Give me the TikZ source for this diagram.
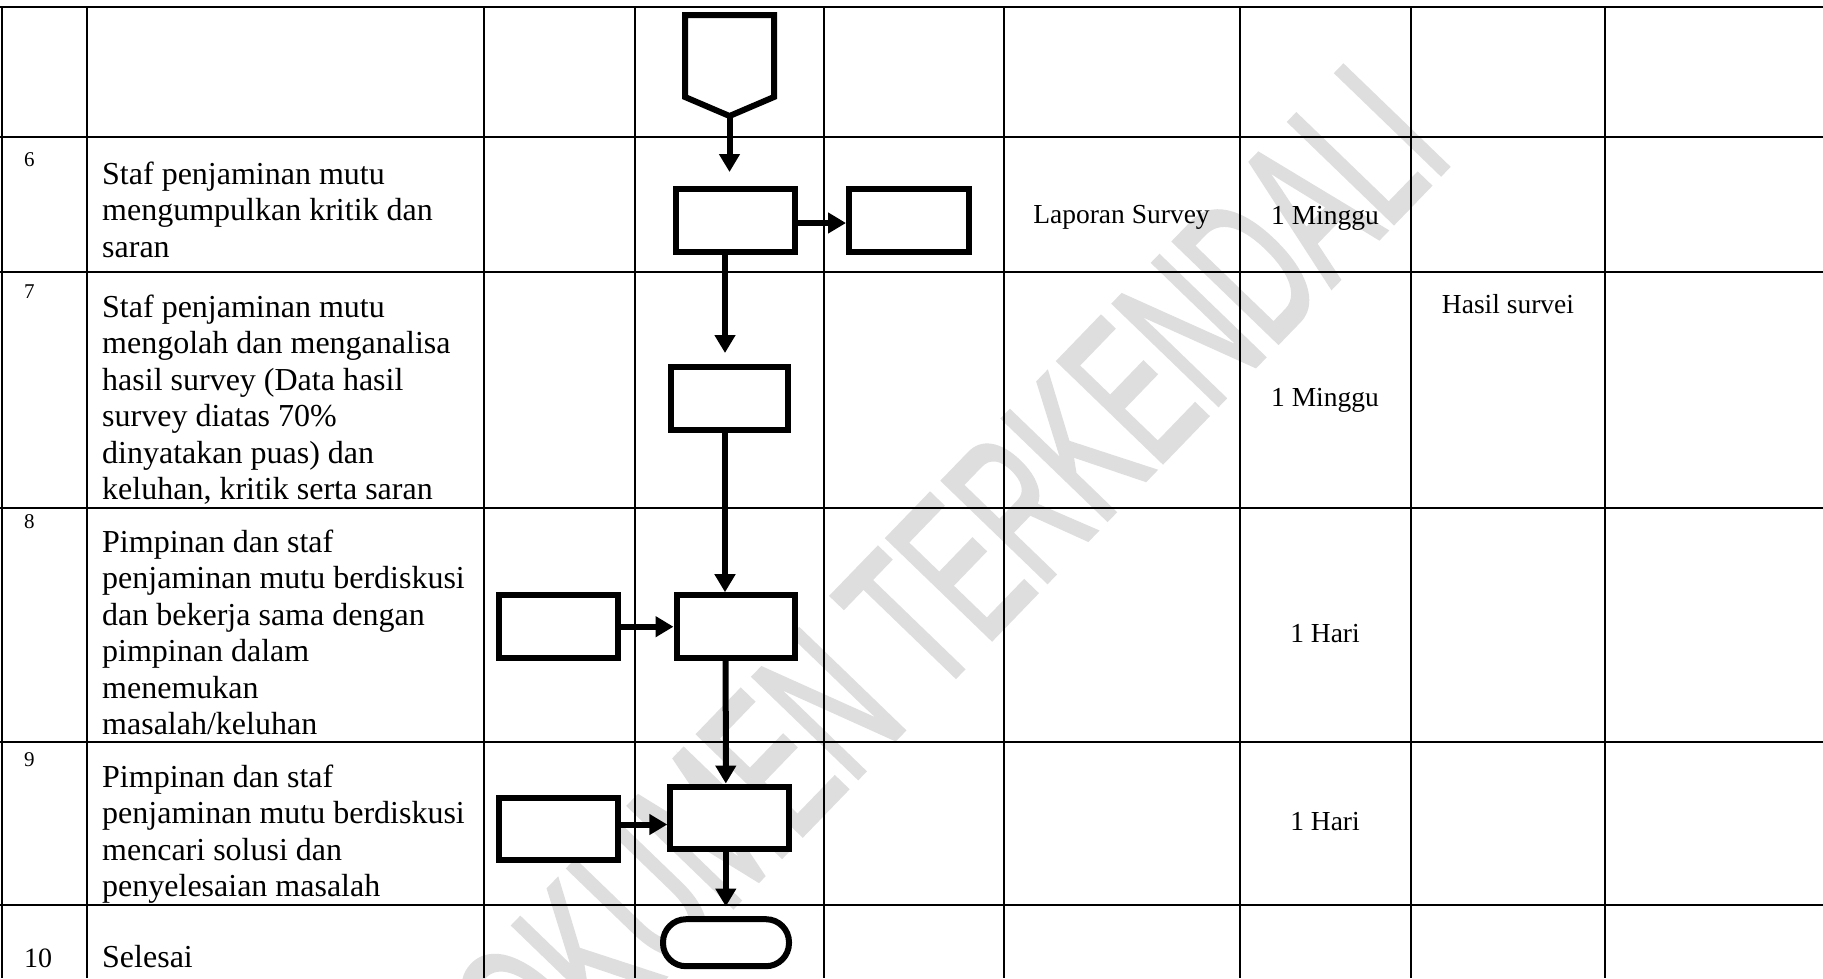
\documentclass[tikz,border=0pt]{standalone}
\usepackage{fontspec}
\setmainfont{Liberation Serif}
\newfontfamily\wmfont[FakeBold=2.2]{Liberation Sans}
\usetikzlibrary{arrows.meta}
\begin{document}
\begin{tikzpicture}[x=1pt,y=-1pt,
  gridline/.style={line width=2pt},
  box/.style={draw, line width=6pt, fill=white, minimum width=119pt, minimum height=63pt, inner sep=0pt},
  term/.style={draw, line width=6pt, fill=white, rounded corners=23pt, minimum width=126pt, minimum height=47pt, inner sep=0pt},
  flow/.style={line width=6pt, -{Triangle[length=18pt,width=20pt]}},
  desc/.style={anchor=base west, inner sep=0pt, align=left, font=\fontsize{32}{36.5}\selectfont},
  num/.style={anchor=base west, inner sep=0pt, font=\fontsize{21}{24}\selectfont},
  cell/.style={anchor=base, inner sep=0pt, font=\fontsize{27.5}{33}\selectfont},
  wm/.style={rotate=46, xscale=0.57, transform shape, anchor=base east, inner sep=0pt, text=black!13, font=\wmfont\fontsize{210}{210}\selectfont},
]
\useasboundingbox (0,0) rectangle (1823,978);
\fill[white] (0,0) rectangle (1823,978);

% watermark
\node[wm] (watermark) at (1456,158) {DOKUMEN TERKENDALI};

% table grid
\foreach \yy in {7,137,272,508,742,905}
  \draw[gridline] (0,\yy) -- (1823,\yy);
\foreach \xx in {1.5,87,484,635,824,1004,1240,1411,1605}
  \draw[gridline] (\xx,6) -- (\xx,978);

% flow shapes
\draw[line width=6pt, fill=white, line join=miter] (685,15) -- (774,15) -- (774,97) -- (729.5,116) -- (685,97) -- cycle;
\coordinate (pent) at (729.5,117);
\coordinate (p1) at (729.5,172);
\node[box] (A) at (735.5,220.5) {};
\node[box, minimum width=120pt] (B) at (909,220.5) {};
\node[box, minimum width=117pt] (C) at (729.5,398.5) {};
\node[box, minimum width=118pt] (D) at (735.5,626.7) {};
\node[box] (E) at (558,626.7) {};
\node[box, minimum height=62pt] (F) at (729.8,817.5) {};
\node[box, minimum height=62pt] (G) at (558,828.5) {};
\node[term] (T) at (726,942.7) {};
\coordinate (c3) at (725,353);
\coordinate (t8) at (725.8,906.5);

% connectors
\draw[flow] (pent) -- (p1);
\draw[flow] ([yshift=-2.5pt]A.east) -- ([yshift=-2.5pt]B.west);
\draw[flow] ([xshift=-10.5pt]A.south) -- (c3);
\draw[flow] ([xshift=-4.5pt]C.south) -- ([xshift=-10.5pt]D.north);
\draw[flow] (E.east) -- (D.west);
\draw[flow] ([xshift=-9.8pt]D.south) -- ([xshift=-4pt]F.north);
\draw[flow] ([yshift=4pt]G.east) -- ([yshift=-7pt]F.west);
\draw[flow] ([xshift=-4pt]F.south) -- (t8);

% numbers
\node[num] (n6) at (24,166.5) {6};
\node[num] (n7) at (24,298) {7};
\node[num] (n8) at (24,528) {8};
\node[num] (n9) at (24,766.5) {9};
\node[num, font=\fontsize{28}{33}\selectfont] (n10) at (24,967) {10};

% descriptions (anchor = baseline of the last line)
\node[desc] (d6) at (102,257) {Staf penjaminan mutu\\mengumpulkan kritik dan\\saran};
\node[desc] (d7) at (102,499.5) {Staf penjaminan mutu\\mengolah dan menganalisa\\hasil survey (Data hasil\\survey diatas 70\%\\dinyatakan puas) dan\\keluhan, kritik serta saran};
\node[desc] (d8) at (102,734.5) {Pimpinan dan staf\\penjaminan mutu berdiskusi\\dan bekerja sama dengan\\pimpinan dalam\\menemukan\\masalah/keluhan};
\node[desc] (d9) at (102,896.5) {Pimpinan dan staf\\penjaminan mutu berdiskusi\\mencari solusi dan\\penyelesaian masalah};
\node[desc] (d10) at (102,967) {Selesai};

% other cells
\node[cell] (out6) at (1121.5,223) {Laporan Survey};
\node[cell] (time6) at (1325,224) {1 Minggu};
\node[cell] (out7) at (1508,313) {Hasil survei};
\node[cell] (time7) at (1325,406) {1 Minggu};
\node[cell] (time8) at (1325,642) {1 Hari};
\node[cell] (time9) at (1325,830.5) {1 Hari};
\end{tikzpicture}
\end{document}
